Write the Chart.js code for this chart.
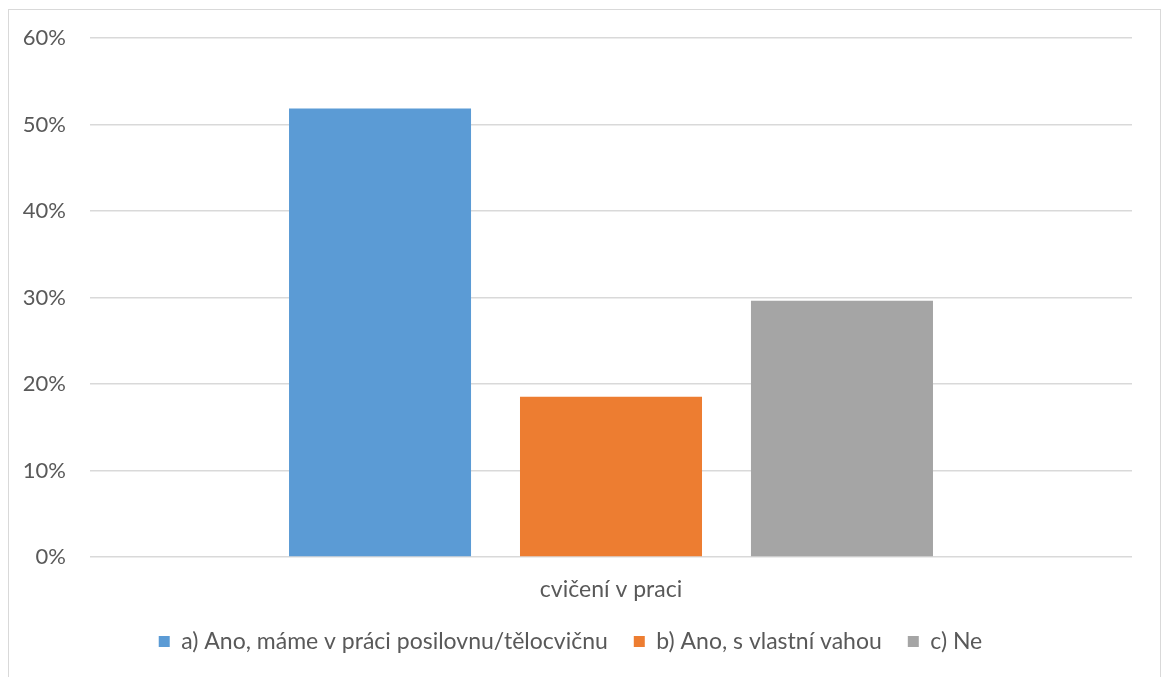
<!DOCTYPE html>
<html>
<head>
<meta charset="utf-8">
<script src="https://cdn.jsdelivr.net/npm/chart.js@4"></script>
<style>
  body { margin: 0; background: #fff; }
  .frame {
    position: absolute; left: 8px; top: 9px; width: 1151px; height: 680px;
    border: 1px solid #d9d9d9; background: #fff;
  }
  .wrap { position: absolute; left: 0; top: 0; width: 1151px; height: 667px; }
</style>
</head>
<body>
<div class="frame">
  <div class="wrap"><canvas id="chart"></canvas></div>
</div>
<script>
const categories = ['cvičení v praci'];
const seriesNames = ['a) Ano, máme v práci posilovnu/tělocvičnu', 'b) Ano, s vlastní vahou', 'c) Ne'];
const seriesValues = [[0.5185], [0.1852], [0.2963]];
const seriesColors = ['#5B9BD5', '#ED7D31', '#A5A5A5'];
const yTicks = [0, 0.1, 0.2, 0.3, 0.4, 0.5, 0.6];

const textColor = '#595959';
const family = 'Lato, "Open Sans", sans-serif';

new Chart(document.getElementById('chart'), {
  type: 'bar',
  data: {
    labels: categories,
    datasets: seriesNames.map((name, i) => ({
      label: name,
      data: seriesValues[i],
      backgroundColor: seriesColors[i],
      borderWidth: 0,
      categoryPercentage: 0.665,
      barPercentage: 0.788
    }))
  },
  options: {
    responsive: true,
    maintainAspectRatio: false,
    animation: false,
    layout: { padding: { top: 28, right: 28, left: 0, bottom: 14 } },
    plugins: {
      tooltip: { enabled: false },
      legend: {
        position: 'bottom',
        labels: {
          color: textColor,
          font: { family: family, size: 23 },
          boxWidth: 11,
          boxHeight: 11,
          padding: 26
        }
      }
    },
    scales: {
      x: {
        grid: { display: false, drawTicks: false },
        border: { display: false },
        ticks: { color: textColor, font: { family: family, size: 23 }, padding: 19 },
        afterFit: s => { s.height = 47; }
      },
      y: {
        min: 0,
        max: 0.6,
        afterBuildTicks: s => { s.ticks = yTicks.map(v => ({ value: v })); },
        grid: { color: '#d9d9d9', lineWidth: 1.5, drawTicks: false },
        border: { display: false },
        ticks: {
          color: textColor,
          font: { family: family, size: 22 },
          padding: 24,
          callback: v => Math.round(v * 100) + '%'
        },
        // fixed axis width; drop the label half-height padding so the plot top sits at 60%
        afterFit: s => { s.width = 81; s.paddingTop = 0; s.paddingBottom = 0; }
      }
    }
  }
});
</script>
</body>
</html>
